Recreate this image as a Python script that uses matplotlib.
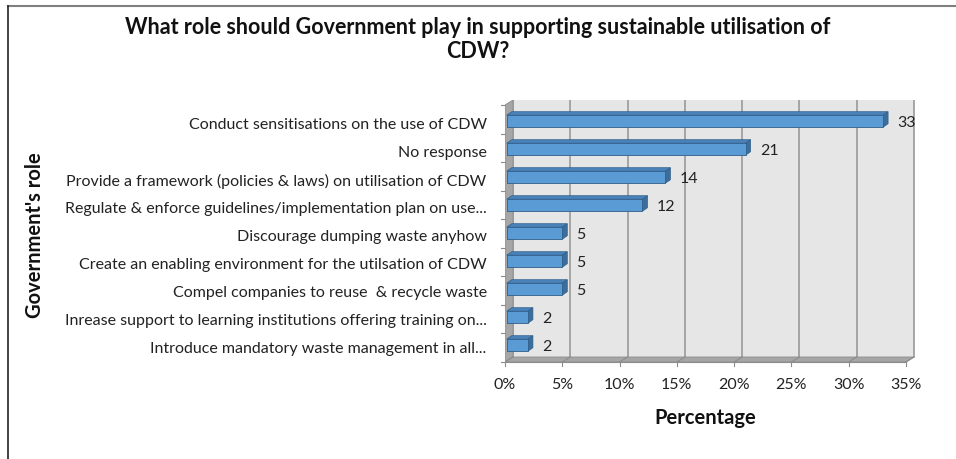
import matplotlib
matplotlib.use("Agg")
import matplotlib.pyplot as plt
from matplotlib.patches import Polygon, Rectangle
from matplotlib.lines import Line2D

categories = [
    "Conduct sensitisations on the use of CDW",
    "No response",
    "Provide a framework (policies & laws) on utilisation of CDW",
    "Regulate & enforce guidelines/implementation plan on use...",
    "Discourage dumping waste anyhow",
    "Create an enabling environment for the utilsation of CDW",
    "Compel companies to reuse  & recycle waste",
    "Inrease support to learning institutions offering training on...",
    "Introduce mandatory waste management in all...",
]
values = [33, 21, 14, 12, 5, 5, 5, 2, 2]
xticks = [0, 5, 10, 15, 20, 25, 30, 35]
xtick_labels = ["0%", "5%", "10%", "15%", "20%", "25%", "30%", "35%"]

FONT = "Lato"
plt.rcParams["font.family"] = [FONT, "DejaVu Sans"]

W, H = 956, 459
fig = plt.figure(figsize=(W / 100, H / 100), dpi=100)

# axes placement (pixels)
x0, x1 = 505, 918
ytop, ybot = 100, 362
ax = fig.add_axes([x0 / W, (H - ybot) / H, (x1 - x0) / W, (ybot - ytop) / H])
px_per_unit = (906 - 505) / 35.0
xmax = (x1 - x0) / px_per_unit
row = 28.0
ylo = -0.5
yhi = ylo + (ybot - ytop) / row
ax.set_xlim(0, xmax)
ax.set_ylim(ylo, yhi)
ax.axis("off")

dx = 8 / px_per_unit   # depth offset x
dy = 5 / row           # depth offset y

wall = "#e6e6e6"
side = "#a6a6a6"
grid = "#9a9a9a"

# back wall
ax.add_patch(Rectangle((dx, ylo + dy), 35, yhi - ylo - dy, facecolor=wall,
                       edgecolor="none", zorder=0))
# left wall
ax.add_patch(Polygon([(0, ylo), (dx, ylo + dy), (dx, yhi), (0, yhi - dy)],
                     closed=True, facecolor=side, edgecolor="#8c8c8c", lw=0.6, zorder=1))
# floor
ax.add_patch(Polygon([(0, ylo), (35, ylo), (35 + dx, ylo + dy), (dx, ylo + dy)],
                     closed=True, facecolor=side, edgecolor="#8c8c8c", lw=0.6, zorder=1))
# gridlines
for t in xticks:
    ax.plot([t + dx, t + dx], [ylo + dy, yhi], color=grid, lw=1.2, zorder=0.5)
    ax.plot([t, t + dx], [ylo, ylo + dy], color="#8c8c8c", lw=0.8, zorder=1.2)
# front axis line and ticks
ax.plot([0, 35], [ylo, ylo], color="#8c8c8c", lw=0.8, zorder=2, clip_on=False)
for t, lab in zip(xticks, xtick_labels):
    ax.plot([t, t], [ylo, ylo - 4 / row], color="#8c8c8c", lw=0.8, clip_on=False)
    ax.text(t, ylo - 23 / row, lab, ha="center", va="center", fontsize=11.5, color="#222222")
# y tick marks on left
n = len(categories)
for i in range(n + 1):
    yb = ylo + i * ((yhi - dy - ylo) / n)
    ax.plot([-4 / px_per_unit, 0], [yb, yb], color="#8c8c8c", lw=0.8, clip_on=False)

# bars
front = "#5b9bd5"
topc = "#4a82b8"
capc = "#3d6e9b"
edge = "#2e5f8a"
h = 12 / row
bdx = 5 / px_per_unit
bdy = 3.5 / row
for i, (cat, v) in enumerate(zip(categories, values)):
    yc = (n - 1 - i) + 0.1
    yb, yt = yc - h / 2, yc + h / 2
    ax.add_patch(Polygon([(0.15, yt), (v, yt), (v + bdx, yt + bdy), (0.15 + bdx, yt + bdy)],
                         closed=True, facecolor=topc, edgecolor=edge, lw=0.5, zorder=3))
    ax.add_patch(Polygon([(v, yb), (v + bdx, yb + bdy), (v + bdx, yt + bdy), (v, yt)],
                         closed=True, facecolor=capc, edgecolor=edge, lw=0.5, zorder=3))
    ax.add_patch(Rectangle((0.15, yb), v - 0.15, h, facecolor=front, edgecolor=edge,
                           lw=0.6, zorder=4))
    ax.text(v + 1.25, yc - 0.05, str(v), ha="left", va="center", fontsize=11.5,
            color="#222222", zorder=5)
    ax.text(-1.6, (n - 1 - i) - 0.05, cat, ha="right", va="center", fontsize=11.5,
            color="#222222", clip_on=False)

# titles
fig.text(478 / W, 1 - 27 / H, "What role should Government play in supporting sustainable utilisation of",
         ha="center", va="center", fontsize=15.5, fontweight="bold", color="#111111")
fig.text(478 / W, 1 - 51 / H, "CDW?", ha="center", va="center", fontsize=15.5,
         fontweight="bold", color="#111111")
fig.text(705 / W, 1 - 418 / H, "Percentage", ha="center", va="center", fontsize=14.5,
         fontweight="bold", color="#111111")
fig.text(35 / W, 1 - 235 / H, "Government's role", ha="center", va="center", fontsize=14.5,
         fontweight="bold", rotation=90, color="#111111")

# border lines (top and left)
fig.add_artist(Line2D([8 / W, 1], [1 - 5.5 / H, 1 - 5.5 / H], transform=fig.transFigure,
                      color="#7f7f7f", lw=1.5))
fig.add_artist(Line2D([8 / W, 8 / W], [0, 1 - 5.5 / H], transform=fig.transFigure,
                      color="#222222", lw=1.2))

fig.savefig("out.png", dpi=100, facecolor="white")
